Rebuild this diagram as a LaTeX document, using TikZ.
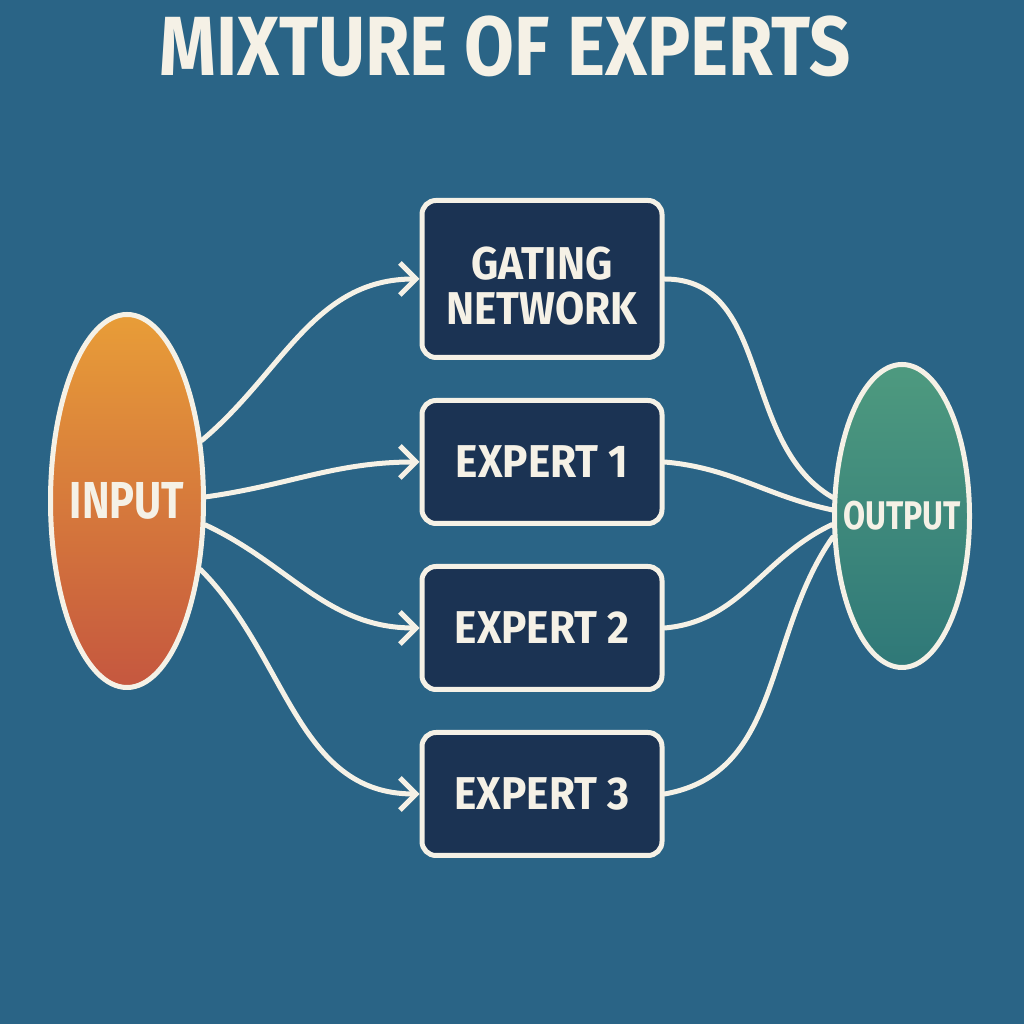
\documentclass[tikz,border=0pt]{standalone}
\usepackage{fontspec}
\setmainfont{Fira Sans}
\newfontfamily\boldcond[FakeStretch=0.92]{Fira Sans Bold}
\newfontfamily\blobcond[FakeStretch=0.8]{Fira Sans Bold}
\newfontfamily\titlecond[FakeStretch=0.86]{Fira Sans Bold}
\usetikzlibrary{
  calc,positioning,
  arrows,arrows.meta,
  shapes.geometric
}

\definecolor{bgblue}{HTML}{2A6486}
\definecolor{navy}{HTML}{1B3353}
\definecolor{cream}{HTML}{F5F1E6}
\definecolor{intop}{HTML}{E89D38}
\definecolor{inbot}{HTML}{C5573F}
\definecolor{outtop}{HTML}{4E9A7F}
\definecolor{outbot}{HTML}{2F7878}

\tikzset{
  box/.style={draw=cream,line width=5pt,fill=navy,rounded corners=14pt,
    minimum width=240pt,minimum height=123pt,align=center,
    text=cream,font=\boldcond\fontsize{46}{45}\selectfont},
  blob/.style={ellipse,draw=cream,line width=5pt,inner ysep=0pt,inner xsep=-14pt,
    text=cream,font=\blobcond\fontsize{52}{56}\selectfont},
  link/.style={cream,line width=5pt,line cap=round},
  feed/.style={link,-{Straight Barb[length=16pt,width=32pt]}}
}

\begin{document}
\begin{tikzpicture}[x=1pt,y=1pt]

\fill[bgblue] (0,0) rectangle (1024,1024);
\useasboundingbox (0,0) rectangle (1024,1024);

% title
\node[text=cream,font=\titlecond\fontsize{84}{88}\selectfont] (title) at (505,978) {MIXTURE OF EXPERTS};

% input and output
\node[blob,minimum width=153pt,minimum height=373pt,top color=intop,bottom color=inbot] (in) at (127,523) {INPUT};
\node[blob,minimum width=135pt,minimum height=303pt,top color=outtop,bottom color=outbot,
  font=\blobcond\fontsize{40}{44}\selectfont] (out) at (902,508) {OUTPUT};

% experts
\node[box,minimum height=157pt] (gate) at (542,745) {\rule{0pt}{46pt}GATING\\NETWORK};
\node[box] (ex1) at (542,562) {EXPERT 1};
\node[box] (ex2) at (542,396) {EXPERT 2};
\node[box] (ex3) at (542,230) {EXPERT 3};

% input -> boxes
\draw[feed] (in.39) to[out=40,in=180] (gate.west);
\draw[feed] (in.3) to[out=8,in=180] (ex1.west);
\draw[feed] (in.-17) to[out=-25,in=180] (ex2.west);
\draw[feed] (in.-43) to[out=-45,in=180] (ex3.west);

% boxes -> output
\draw[link] (gate.east) to[out=0,in=150] (out.165);
\draw[link] (ex1.east) to[out=-5,in=168] (out.175);
\draw[link] (ex2.east) to[out=5,in=205] (out.187);
\draw[link] (ex3.east) to[out=10,in=235] (out.197);
\end{tikzpicture}
\end{document}
